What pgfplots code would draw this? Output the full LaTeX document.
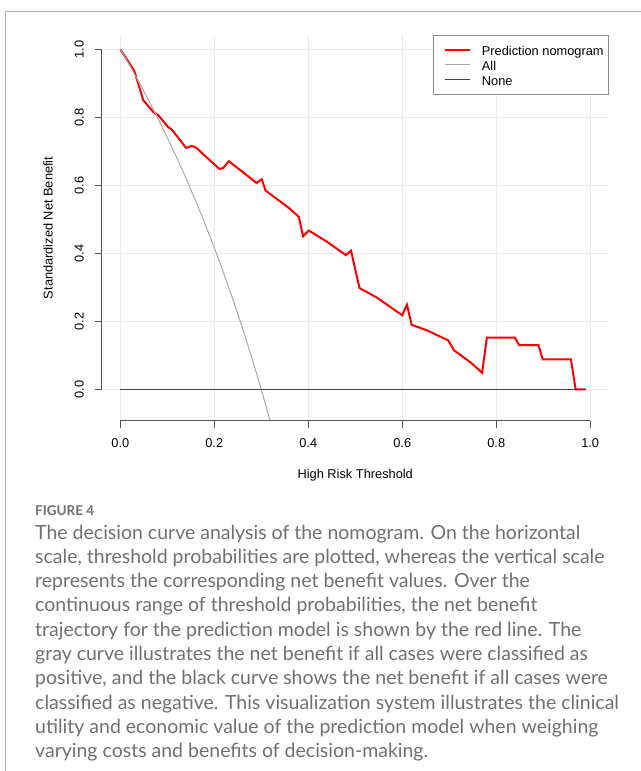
\documentclass[border=0pt]{standalone}
\usepackage{pgfplots}
\pgfplotsset{compat=1.18}
\usepackage{fontspec}
\setmainfont{Liberation Sans}
\newfontfamily\capfont{Lato}
\definecolor{capgray}{HTML}{707070}
\definecolor{gridgray}{HTML}{EBEBEB}
\definecolor{axgray}{HTML}{555555}
\definecolor{allgray}{HTML}{AAAAAA}
\definecolor{nonegray}{HTML}{444444}
\definecolor{framegray}{HTML}{B4B4B4}
\newcommand{\rfont}{\fontsize{12.8bp}{15bp}\selectfont}
\newcommand{\cfont}{\capfont\fontsize{19.5bp}{24bp}\selectfont}
\begin{document}
\begin{tikzpicture}
\useasboundingbox (0,0) rectangle (641bp,-771bp);
% figure frame
\draw[framegray, line width=1bp] (641bp,-11bp) -- (5bp,-11bp) -- (5bp,-771bp);
\begin{axis}[
  scale only axis,
  width=507.5bp, height=385.7bp,
  at={(101.5bp,-420.7bp)}, anchor=south west,
  xmin=-0.04, xmax=1.04, ymin=-0.092, ymax=1.042,
  axis line style={draw=none},
  xtick={0,0.2,0.4,0.6,0.8,1.0},
  xticklabels={0.0,0.2,0.4,0.6,0.8,1.0},
  ytick={0,0.2,0.4,0.6,0.8,1.0},
  yticklabels={0.0,0.2,0.4,0.6,0.8,1.0},
  xtick pos=lower, ytick pos=left,
  tick align=outside,
  major tick length=7bp,
  tick style={axgray, line width=1bp},
  grid=major,
  grid style={gridgray, line width=1bp},
  xticklabel style={font=\rfont, inner sep=0pt, anchor=north},
  yticklabel style={font=\rfont, inner sep=0pt, rotate=90, anchor=south},
  xticklabel shift=11bp,
  yticklabel shift=10.5bp,
  xlabel={High Risk Threshold},
  ylabel={Standardized Net Benefit},
  label style={font=\rfont},
  xlabel style={at={(axis description cs:0.5,-0.1408)}, anchor=center, inner sep=0pt},
  ylabel style={at={(axis description cs:-0.1054,0.5)}, anchor=center, inner sep=0pt},
  legend style={at={(1,1)}, anchor=north east, draw=black!45, line width=0.8bp,
    fill=white, inner xsep=5bp, inner ysep=7bp, row sep=0bp, font=\rfont,
    nodes={inner sep=0pt, text height=13.5bp, text depth=1.5bp},
    /tikz/every odd column/.append style={column sep=11.3bp}},
  legend cell align=left,
  legend image code/.code={\path (-5.3bp,0bp); \draw[#1] (0bp,0bp) -- (24.7bp,0bp);},
]
\addplot[red, line width=2bp] coordinates {
(0,1.000) (0.030,0.936) (0.049,0.850) (0.070,0.816) (0.081,0.806)
(0.102,0.771) (0.109,0.765) (0.140,0.710) (0.152,0.716) (0.161,0.711)
(0.211,0.648) (0.219,0.651) (0.231,0.671) (0.290,0.607) (0.301,0.618)
(0.309,0.585) (0.361,0.531) (0.380,0.507) (0.389,0.450) (0.401,0.467)
(0.439,0.435) (0.480,0.395) (0.491,0.408) (0.509,0.298) (0.546,0.270)
(0.600,0.218) (0.610,0.249) (0.620,0.190) (0.652,0.174) (0.698,0.144)
(0.710,0.115) (0.723,0.102) (0.745,0.080) (0.770,0.049) (0.780,0.152)
(0.840,0.152) (0.849,0.130) (0.890,0.130) (0.899,0.088) (0.959,0.088)
(0.969,0.000) (0.990,0.000)
};
\addlegendentry{Prediction nomogram}
\addplot[allgray, line width=1bp] coordinates {
(0,1.000) (0.02,0.9524) (0.04,0.9028) (0.06,0.8511) (0.08,0.7971)
(0.10,0.7407) (0.12,0.6818) (0.14,0.6202) (0.16,0.5556) (0.18,0.4878)
(0.20,0.4167) (0.22,0.3419) (0.24,0.2632) (0.26,0.1802) (0.28,0.0926)
(0.30,0.0000) (0.31,-0.0483) (0.32,-0.0980)
};
\addlegendentry{All}
\addplot[nonegray, line width=1bp] coordinates {(0,0) (0.99,0)};
\addlegendentry{None}
\end{axis}
% R-style axis lines
\draw[axgray, line width=1bp] (120.3bp,-420.7bp) -- (590.3bp,-420.7bp);
\draw[axgray, line width=1bp] (101.5bp,-389bp) -- (101.5bp,-49bp);
% caption
\node[anchor=base west, inner sep=0pt, text=capgray, font=\capfont\bfseries\fontsize{13.5bp}{16bp}\selectfont] at (35bp,-515.7bp) {FIGURE 4};
\begin{scope}[every node/.style={anchor=base west, inner sep=0pt, text=capgray, font=\cfont}]
\node at (35bp,-539bp) {The decision curve analysis of the nomogram. On the horizontal};
\node at (35bp,-563.3bp) {scale, threshold probabilities are plotted, whereas the vertical scale};
\node at (35bp,-587.6bp) {represents the corresponding net benefit values. Over the};
\node at (35bp,-611.9bp) {continuous range of threshold probabilities, the net benefit};
\node at (35bp,-636.2bp) {trajectory for the prediction model is shown by the red line. The};
\node at (35bp,-660.5bp) {gray curve illustrates the net benefit if all cases were classified as};
\node at (35bp,-684.8bp) {positive, and the black curve shows the net benefit if all cases were};
\node at (35bp,-709.1bp) {classified as negative. This visualization system illustrates the clinical};
\node at (35bp,-733.4bp) {utility and economic value of the prediction model when weighing};
\node at (35bp,-757.7bp) {varying costs and benefits of decision-making.};
\end{scope}
\end{tikzpicture}
\end{document}
